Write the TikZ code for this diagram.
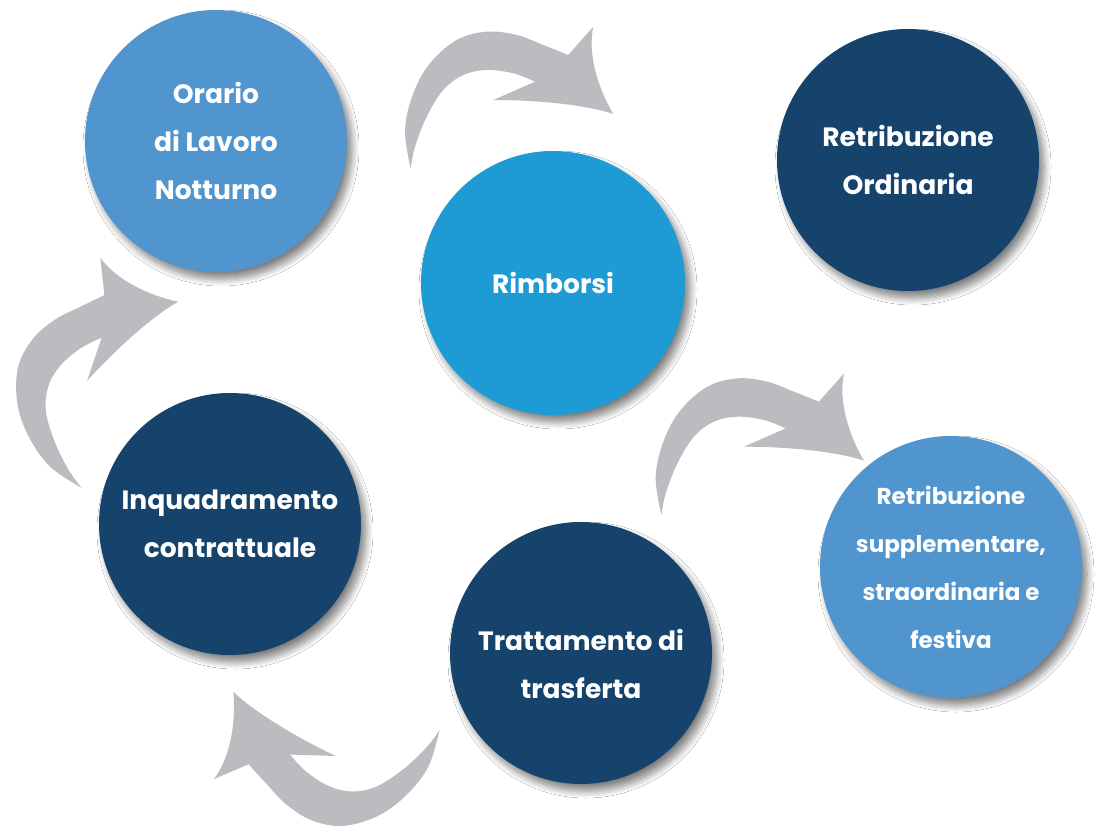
\documentclass[tikz,border=0pt]{standalone}
\usepackage{fontspec}
\setmainfont{Poppins}
\usetikzlibrary{shadows.blur}
\definecolor{navy}{RGB}{21,67,108}
\definecolor{lightblue}{RGB}{81,149,207}
\definecolor{midblue}{RGB}{30,155,212}
\definecolor{arrowgray}{RGB}{187,188,192}
\newcommand\curvedarrowshape{%
  \fill[arrowgray] plot[smooth,tension=0.6] coordinates {(-202.6,54.3) (-208.3,16) (-200,-20.7) (-183.3,-50.7) (-156.6,-74) (-126.6,-82.3) (-96.6,-79) (-70,-69) (-45,-59)}
    -- (-20,-87.3) .. controls (-26,-60) and (-15,-25) .. (0,0)
    .. controls (-30,-10) and (-80,-14) .. (-120,-14)
    -- (-78.3,-32.3)
    -- plot[smooth,tension=0.6] coordinates {(-78.3,-32.3) (-100,-40.7) (-126.6,-44) (-150,-39) (-170,-24) (-186.6,2.7) (-198.3,32.7) (-202.6,54.3)}
    -- cycle;}
\tikzset{
  bubble/.style={circle, minimum size=262pt, inner sep=0pt, text=white, align=center,
    font=\fontsize{26.5}{48}\selectfont\bfseries,
    blur shadow={shadow xshift=5pt, shadow yshift=-7pt, shadow blur radius=7pt, shadow blur steps=10, shadow opacity=50}},
  small/.style={font=\fontsize{23}{48}\selectfont\bfseries},
  label text/.style={text=white, align=center, font=\fontsize{26.5}{48}\selectfont\bfseries}
}
\begin{document}
\begin{tikzpicture}[x=1pt,y=-1pt]
\useasboundingbox[fill=white] (0,0) rectangle (1114,829);
% arrows
\begin{scope}[shift={(613.3,114)}] \curvedarrowshape \end{scope}
\begin{scope}[shift={(864,460.7)}] \curvedarrowshape \end{scope}
\begin{scope}[shift={(178.3,301.7)},rotate=47.6] \curvedarrowshape \end{scope}
\begin{scope}[shift={(233.3,691.7)},rotate=154.5] \curvedarrowshape \end{scope}
% circles
\node[bubble, fill=lightblue] (orario) at (216,141) {Orario\\di Lavoro\\Notturno};
\node[bubble, fill=midblue, minimum size=264pt] (rimborsi) at (553,283) {Rimborsi};
\node[bubble, fill=navy] (ordinaria) at (908,160) {Retribuzione\\Ordinaria};
\node[bubble, fill=navy] (inquadramento) at (230,524) {Inquadramento\\contrattuale};
\node[bubble, fill=navy] (trattamento) at (581,653) {};
\node[label text] (trattamentotext) at (581,664) {Trattamento di\\trasferta};
\node[bubble, fill=lightblue, small] (supplementare) at (951,567) {Retribuzione\\supplementare,\\straordinaria e\\festiva};
\end{tikzpicture}
\end{document}
